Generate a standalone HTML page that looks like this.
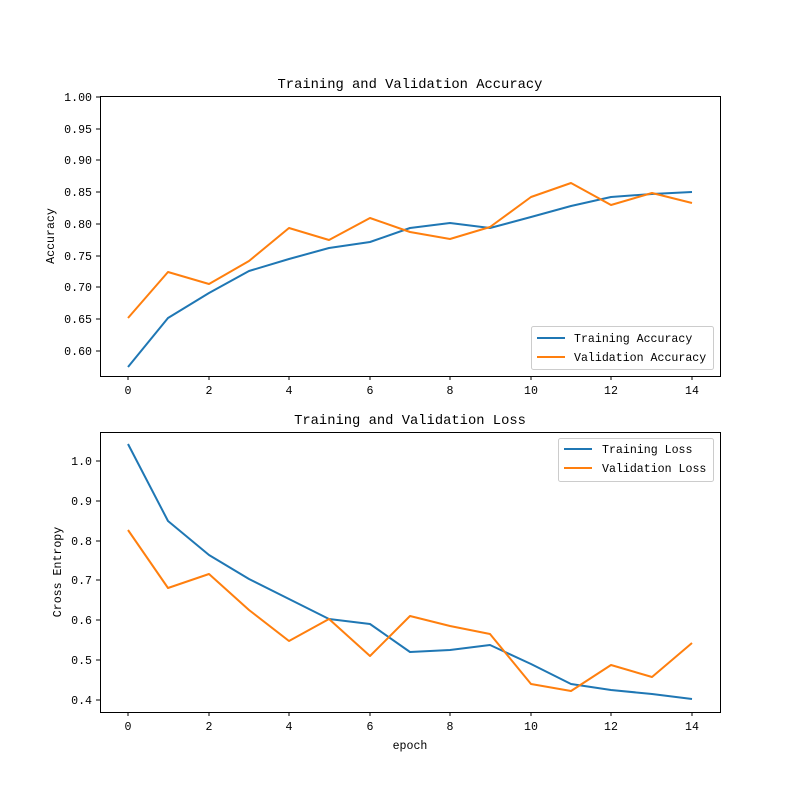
<!DOCTYPE html>
<html><head><meta charset="utf-8"><style>body{margin:0;background:#fff}svg text{font-family:"Liberation Mono","DejaVu Sans Mono",monospace;font-size:11.6px;fill:#000}</style></head><body>
<svg width="800" height="800" xmlns="http://www.w3.org/2000/svg">
<rect width="800" height="800" fill="#fff"/>
<g stroke="#000" stroke-width="1" fill="none">
<rect x="100.5" y="96.5" width="620" height="280"/>
<rect x="100.5" y="432.5" width="620" height="280"/>
</g>
<g stroke="#000" stroke-width="1">
<line x1="128" y1="376" x2="128" y2="380"/><line x1="209" y1="376" x2="209" y2="380"/><line x1="289" y1="376" x2="289" y2="380"/><line x1="370" y1="376" x2="370" y2="380"/><line x1="450" y1="376" x2="450" y2="380"/><line x1="531" y1="376" x2="531" y2="380"/><line x1="611" y1="376" x2="611" y2="380"/><line x1="692" y1="376" x2="692" y2="380"/>
<line x1="128" y1="712" x2="128" y2="716"/><line x1="209" y1="712" x2="209" y2="716"/><line x1="289" y1="712" x2="289" y2="716"/><line x1="370" y1="712" x2="370" y2="716"/><line x1="450" y1="712" x2="450" y2="716"/><line x1="531" y1="712" x2="531" y2="716"/><line x1="611" y1="712" x2="611" y2="716"/><line x1="692" y1="712" x2="692" y2="716"/>
<line x1="96" y1="97" x2="100" y2="97"/><line x1="96" y1="129" x2="100" y2="129"/><line x1="96" y1="160" x2="100" y2="160"/><line x1="96" y1="192" x2="100" y2="192"/><line x1="96" y1="224" x2="100" y2="224"/><line x1="96" y1="256" x2="100" y2="256"/><line x1="96" y1="287" x2="100" y2="287"/><line x1="96" y1="319" x2="100" y2="319"/><line x1="96" y1="351" x2="100" y2="351"/>
<line x1="96" y1="461" x2="100" y2="461"/><line x1="96" y1="501" x2="100" y2="501"/><line x1="96" y1="541" x2="100" y2="541"/><line x1="96" y1="580" x2="100" y2="580"/><line x1="96" y1="620" x2="100" y2="620"/><line x1="96" y1="660" x2="100" y2="660"/><line x1="96" y1="700" x2="100" y2="700"/>
</g>
<g text-anchor="middle">
<text x="128" y="394">0</text><text x="209" y="394">2</text><text x="289" y="394">4</text><text x="370" y="394">6</text><text x="450" y="394">8</text><text x="531" y="394">10</text><text x="611" y="394">12</text><text x="692" y="394">14</text>
<text x="128" y="730">0</text><text x="209" y="730">2</text><text x="289" y="730">4</text><text x="370" y="730">6</text><text x="450" y="730">8</text><text x="531" y="730">10</text><text x="611" y="730">12</text><text x="692" y="730">14</text>
<text x="410" y="749">epoch</text>
<text x="410" y="88" style="font-size:13.8px">Training and Validation Accuracy</text>
<text x="410" y="424" style="font-size:13.8px">Training and Validation Loss</text>
</g>
<g text-anchor="end">
<text x="92" y="101">1.00</text><text x="92" y="133">0.95</text><text x="92" y="164">0.90</text><text x="92" y="196">0.85</text><text x="92" y="228">0.80</text><text x="92" y="260">0.75</text><text x="92" y="291">0.70</text><text x="92" y="323">0.65</text><text x="92" y="355">0.60</text>
<text x="92" y="465">1.0</text><text x="92" y="505">0.9</text><text x="92" y="545">0.8</text><text x="92" y="584">0.7</text><text x="92" y="624">0.6</text><text x="92" y="664">0.5</text><text x="92" y="704">0.4</text>
</g>
<text transform="translate(54,236) rotate(-90)" text-anchor="middle">Accuracy</text>
<text transform="translate(61,572) rotate(-90)" text-anchor="middle">Cross Entropy</text>
<g fill="none" stroke-width="2" stroke-linejoin="round">
<polyline stroke="#1f77b4" points="128,367 168,318 209,293 249,271 289,259 329,248 370,242 410,228 450,223 490,228 531,217 571,206 611,197 652,194 692,192"/>
<polyline stroke="#ff7f0e" points="128,318 168,272 209,284 249,261 289,228 329,240 370,218 410,232 450,239 490,227 531,197 571,183 611,205 652,193 692,203"/>
<polyline stroke="#1f77b4" points="128,444 168,521 209,555 249,579 289,599 329,619 370,624 410,652 450,650 490,645 531,664 571,684 611,690 652,694 692,699"/>
<polyline stroke="#ff7f0e" points="128,530 168,588 209,574 249,610 289,641 329,619 370,656 410,616 450,626 490,634 531,684 571,691 611,665 652,677 692,643"/>
</g>
<g>
<rect x="531.5" y="326.5" width="182" height="43" fill="#fff" stroke="#ccc" rx="2"/>
<line x1="537" y1="338" x2="565" y2="338" stroke="#1f77b4" stroke-width="2"/>
<line x1="537" y1="357" x2="565" y2="357" stroke="#ff7f0e" stroke-width="2"/>
<text x="574" y="342">Training Accuracy</text><text x="574" y="361">Validation Accuracy</text>
<rect x="558.5" y="438.5" width="155" height="43" fill="#fff" stroke="#ccc" rx="2"/>
<line x1="564" y1="449" x2="592" y2="449" stroke="#1f77b4" stroke-width="2"/>
<line x1="564" y1="468" x2="592" y2="468" stroke="#ff7f0e" stroke-width="2"/>
<text x="602" y="453">Training Loss</text><text x="602" y="472">Validation Loss</text>
</g>
</svg>
</body></html>
